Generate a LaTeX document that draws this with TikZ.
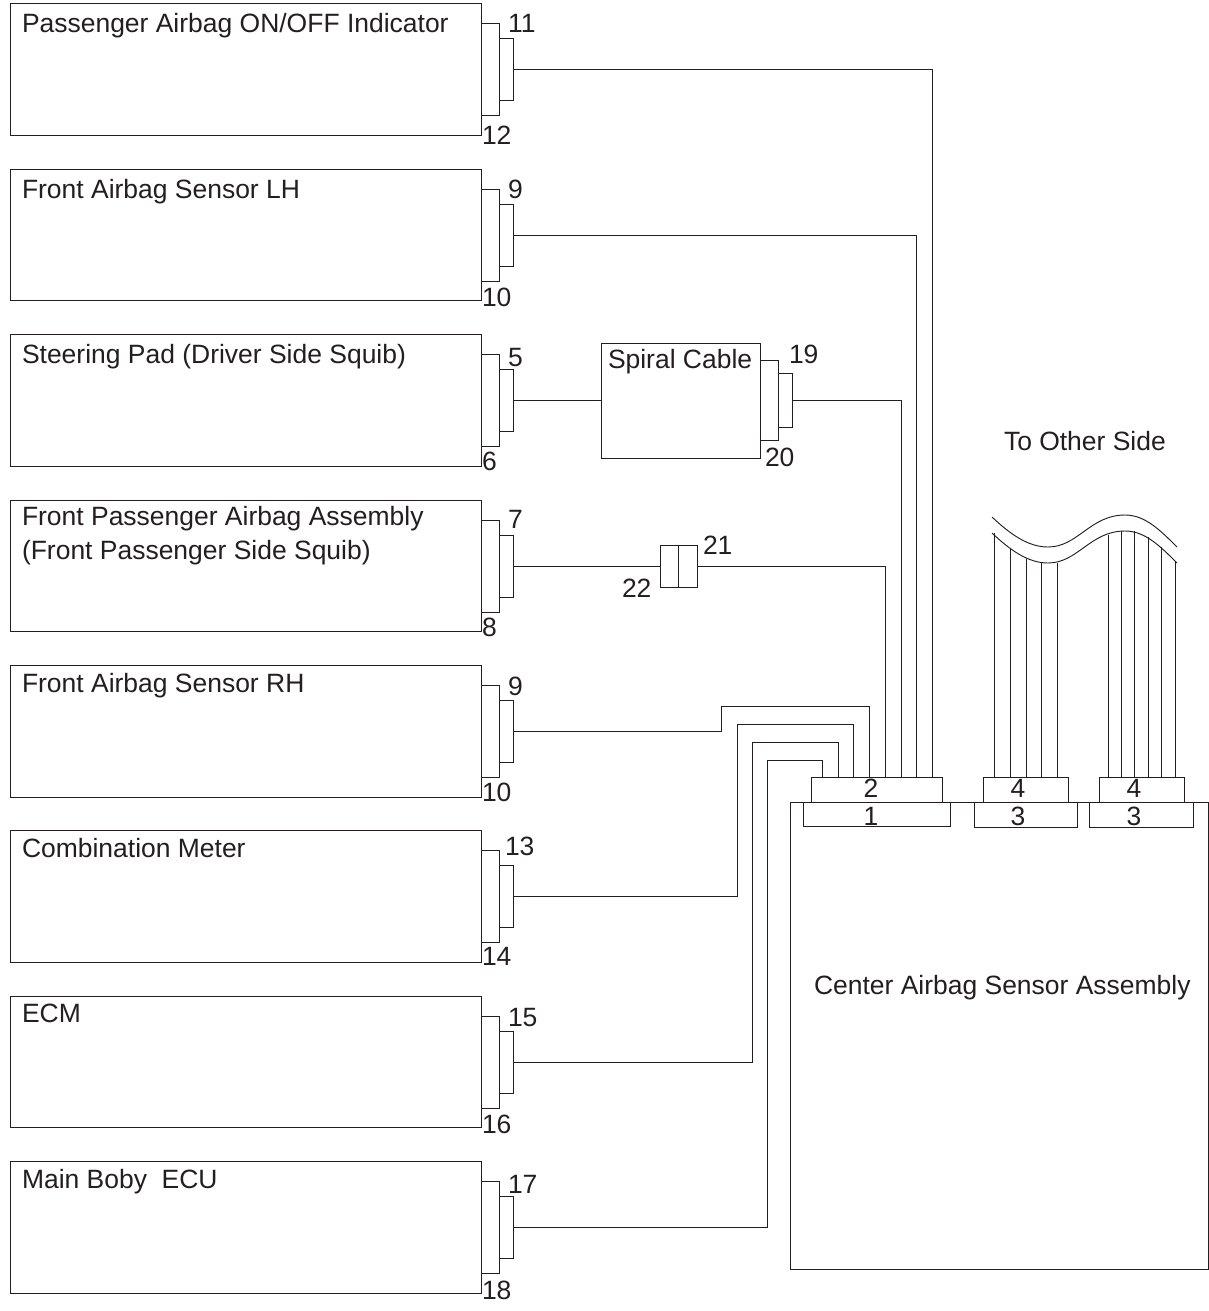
\documentclass[tikz,border=0pt]{standalone}
\usepackage{fontspec}
\setmainfont{Liberation Sans}
\definecolor{ink}{HTML}{231F20}
\tikzset{
  rectbox/.style={draw=ink,line width=0.7pt,rectangle,inner sep=0pt,outer sep=0pt,fill=white},
  wire/.style={draw=ink,line width=0.7pt},
  txt/.style={text=ink,inner sep=0pt,outer sep=0pt,anchor=base west,font=\fontsize{19.85pt}{23pt}\selectfont},
  ctr/.style={txt,anchor=base}
}
% name, x1, y1, x2, y2 in reference pixels
\newcommand\bx[5]{\node[rectbox,minimum width={(#4-#2)*0.75pt},minimum height={(#5-#3)*0.75pt}] (#1) at ({(#2+#4)/2},{(#3+#5)/2}) {};}
% name, top, bottom, title, title offset, upper number, lower number, upper x, upper offset
\newcommand\module[9]{%
  \bx{#1}{10}{#2}{481}{#3}
  \bx{#1o}{481}{\numexpr#2+20\relax}{499}{\numexpr#2+112\relax}
  \bx{#1i}{499}{\numexpr#2+35\relax}{513}{\numexpr#2+97\relax}
  \node[txt] (#1t) at (22,{#2+#5}) {#4};
  \node[txt] (#1a) at (#8,{#2+#9}) {#6};
  \node[txt] (#1b) at (482,#7) {\lowernum{#1}};
}
\newcommand\lowernum[1]{\csname lown#1\endcsname}
\newcommand\lownm{12}\newcommand\lownn{10}\newcommand\lowns{6}\newcommand\lownf{8}
\newcommand\lownr{10}\newcommand\lownc{14}\newcommand\lowne{16}\newcommand\lownb{18}
\begin{document}
\begin{tikzpicture}[x=0.75pt,y=-0.75pt]
\useasboundingbox (0,0) rectangle (1209,1311);
% centre unit and its connectors
\bx{unit}{790}{802}{1208}{1269}
\bx{cb}{811}{777}{942}{802}
\bx{ca}{803}{802}{950}{826}
\bx{cd}{983}{777}{1068}{802}
\bx{cc}{974}{802}{1077}{827}
\bx{cf}{1099}{777}{1184}{802}
\bx{ce}{1089}{802}{1193}{827}
\node[ctr] (lb) at (871,797) {2};
\node[ctr] (la) at (871,825) {1};
\node[ctr] (ld) at (1018,797) {4};
\node[ctr] (lc) at (1018,825) {3};
\node[ctr] (lf) at (1134,797) {4};
\node[ctr] (le) at (1134,825) {3};
\node[txt] (unitt) at (814,994) {Center Airbag Sensor Assembly};
\node[txt] (other) at (1004,450) {To Other Side};
% modules
\module{m}{3}{135}{Passenger Airbag ON/OFF Indicator}{29}{11}{144}{508}{29}
\module{n}{169}{300}{Front Airbag Sensor LH}{29}{9}{306}{508}{29}
\module{s}{334}{466}{Steering Pad (Driver Side Squib)}{29}{5}{470}{508}{32}
\module{f}{500}{631}{Front Passenger Airbag Assembly}{25}{7}{636}{508}{28}
\node[txt] (ft2) at (22,559) {(Front Passenger Side Squib)};
\module{r}{665}{797}{Front Airbag Sensor RH}{27}{9}{801}{508}{30}
\module{c}{830}{962}{Combination Meter}{27}{13}{965}{505}{25}
\module{e}{996}{1127}{ECM}{26}{15}{1133}{508}{30}
\module{b}{1161}{1293}{Main Boby\ \ ECU}{27}{17}{1299}{508}{32}
% spiral cable
\bx{sp}{601}{343}{760}{458}
\bx{spo}{760}{360}{778}{440}
\bx{spi}{778}{373}{792}{427}
\node[txt] (spt) at (608,368) {Spiral Cable};
\node[txt] (n19) at (789,363) {19};
\node[txt] (n20) at (765,466) {20};
% inline connector
\bx{ja}{660}{545}{678}{587}
\bx{jb}{678}{545}{697}{587}
\node[txt] (n21) at (703,554) {21};
\node[txt] (n22) at (622,597) {22};
% landing points on the connectors
\coordinate (p1) at (932,777);
\coordinate (p2) at (916,777);
\coordinate (p3) at (901,777);
\coordinate (p4) at (885,777);
\coordinate (p5) at (869,777);
\coordinate (p6) at (853,777);
\coordinate (p7) at (838,777);
\coordinate (p8) at (822,777);
\draw[wire] (mi.east) -| (p1);
\draw[wire] (ni.east) -| (p2);
\draw[wire] (si.east) -- (sp.west |- si.east);
\draw[wire] (spi.east) -| (p3);
\draw[wire] (fi.east) -- (ja.west);
\draw[wire] (jb.east) -| (p4);
\draw[wire] (ri.east) -| (721,706) -| (p5);
\draw[wire] (ci.east) -| (737,724) -| (p6);
\draw[wire] (ei.east) -| (752,742) -| (p7);
\draw[wire] (bi.east) -| (767,760) -| (p8);
% harness break
\coordinate (q1) at (994,533); \coordinate (q2) at (1010,548); \coordinate (q3) at (1026,559);
\coordinate (q4) at (1041,563); \coordinate (q5) at (1057,563);
\coordinate (q6) at (1108,535); \coordinate (q7) at (1121,531); \coordinate (q8) at (1134,531);
\coordinate (q9) at (1148,537); \coordinate (q10) at (1161,547); \coordinate (q11) at (1175,562);
\foreach \i/\x in {1/994,2/1010,3/1026,4/1041,5/1057}
  \draw[wire] (q\i) -- (\x,777);
\foreach \i/\x in {6/1108,7/1121,8/1134,9/1148,10/1161,11/1175}
  \draw[wire] (q\i) -- (\x,777);
\draw[wire] (992,533) .. controls (1010,550) and (1028,563) .. (1048,563)
  .. controls (1078,563) and (1090,531) .. (1125,531)
  .. controls (1145,531) and (1160,546) .. (1177,563);
\draw[wire] (992,517) .. controls (1010,534) and (1028,547) .. (1048,547)
  .. controls (1078,547) and (1090,515) .. (1125,515)
  .. controls (1145,515) and (1160,530) .. (1177,547);
\end{tikzpicture}
\end{document}
